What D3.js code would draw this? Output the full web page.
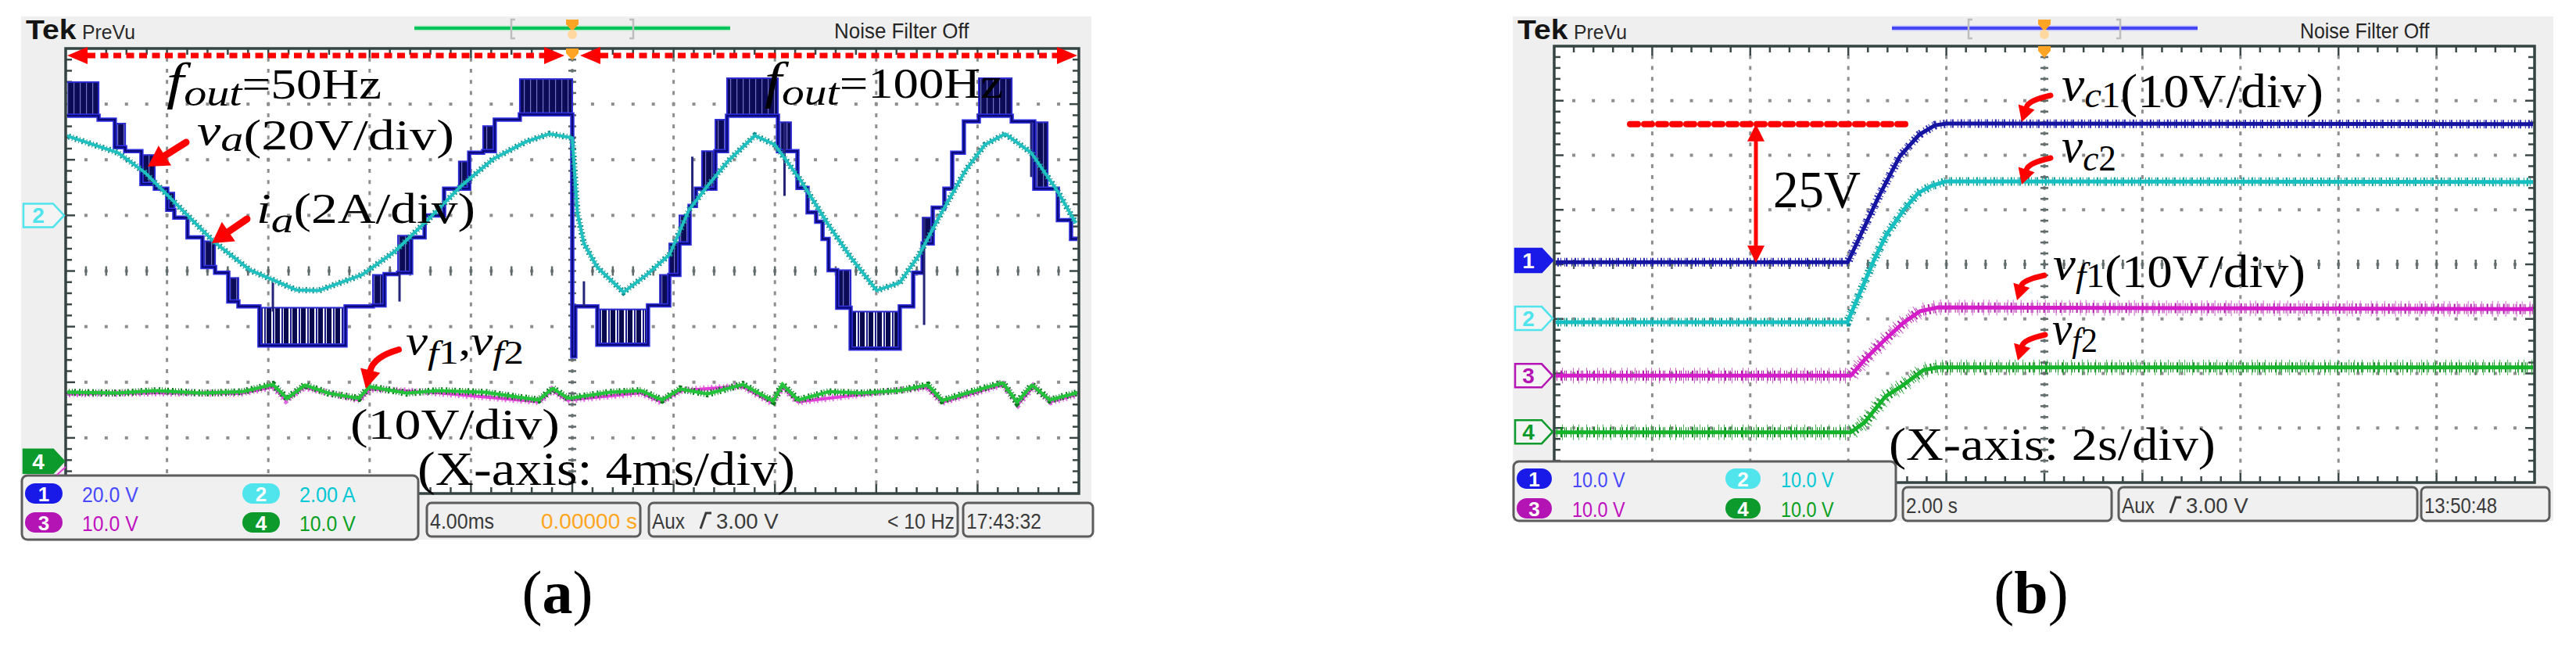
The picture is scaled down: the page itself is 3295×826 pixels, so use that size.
<!DOCTYPE html>
<html>
<head>
<meta charset="utf-8">
<script src="https://cdn.jsdelivr.net/npm/d3@7"></script>
<style>
body { margin: 0; background: #fff; }
svg { display: block; }
.serif { font-family: "Liberation Serif", "Times New Roman", serif; fill: #000; }
.ui { font-family: "Liberation Sans", Arial, sans-serif; }
</style>
</head>
<body>
<svg id="chart" width="3295" height="826"></svg>
<script>
// ---------- data read off the two scope shots ----------
// (a) time in ms (4 ms/div), va in V, ia in A, vf in V
var voltsPerDivA = [20, 2, 10, 10];
var offsetDivA = [1.0, 1.0, -3.42, -3.42];
// va: [t0, t1, levelA, levelB] - equal levels = flat step, else PWM band
var vaSegA = [
	[0, 1.30, 35.8, 47.9], [1.30, 1.94, 34.4, 34.4], [1.94, 2.35, 24.5, 33.0], [2.35, 2.99, 23.1, 23.1],
	[2.99, 3.52, 11.3, 21.7], [3.52, 4.01, 9.6, 9.6], [4.01, 4.29, 2.0, 8.2], [4.29, 4.81, -0.8, -0.8],
	[4.81, 5.40, -7.9, -7.9], [5.40, 5.90, -18.6, -9.3], [5.90, 6.42, -20.6, -20.6], [6.42, 6.82, -31.0, -22.5],
	[6.82, 7.65, -32.7, -32.7], [7.65, 11.05, -46.8, -33.2], [11.05, 12.13, -32.7, -32.7], [12.13, 12.59, -32.4, -21.4],
	[12.59, 13.12, -21.1, -21.1], [13.12, 13.64, -20.6, -7.3], [13.64, 14.17, -7.9, -7.9], [14.17, 14.94, 0, 0],
	[14.94, 15.52, 9.6, 9.6], [15.52, 15.93, 9.6, 19.4], [15.93, 16.48, 22.5, 22.5], [16.48, 16.94, 23.1, 32.1],
	[16.94, 17.93, 34.4, 34.4], [17.93, 20.0, 36.3, 49.0],
	[20.0, 20.12, -50.7, -32.7], [20.12, 20.99, -32.7, -32.7], [20.99, 22.99, -46.5, -33.8], [22.99, 23.46, -32.4, -32.4],
	[23.46, 23.83, -32.4, -21.4], [23.83, 24.23, -21.4, -10.1], [24.23, 24.63, -10.1, 0], [24.63, 24.88, 3.4, 3.4],
	[24.88, 25.12, 9.6, 9.6], [25.12, 25.65, 9.6, 23.1], [25.65, 26.11, 23.1, 34.4], [26.11, 28.12, 35.8, 49.3],
	[28.12, 28.64, 23.1, 33.5], [28.64, 28.89, 23.1, 23.1], [28.89, 29.29, 9.9, 9.9], [29.29, 29.63, 1.1, 1.1],
	[29.63, 29.88, -2.3, -2.3], [29.88, 30.12, -8.5, -8.5], [30.12, 30.46, -19.7, -19.7], [30.46, 30.99, -33.2, -19.7],
	[30.99, 32.93, -47.9, -34.6], [32.93, 33.46, -32.7, -32.7], [33.46, 33.83, -20.6, -20.6], [33.83, 34.23, -10.1, -0.8],
	[34.23, 34.69, 2.8, 2.8], [34.69, 35.00, 9.6, 9.6], [35.00, 35.46, 22.5, 22.5], [35.46, 36.05, 33.8, 33.8],
	[36.05, 37.35, 35.8, 49.3], [37.35, 38.24, 33.8, 33.8], [38.24, 38.77, 9.6, 33.5], [38.77, 39.17, 9.6, 9.6],
	[39.17, 39.69, -1.7, -1.7], [39.69, 40.0, -8.5, -8.5]
];
var vaSpikesA = [[8.18, -24.2, -34.6], [13.18, -20.6, -31.0], [20.46, -23.7, -32.7], [24.74, 3.4, 21.1],
	[28.38, 7.0, 33.5], [33.89, -39.4, -0.8], [38.12, 13.8, 33.5]];
var iaA = [
	[0, 2.87], [2.07, 2.25], [3.12, 1.55], [4.29, 0.48], [5.83, -0.93], [7.28, -1.97], [9.10, -2.68], [10.0, -2.70],
	[11.70, -2.14], [12.99, -1.30], [14.29, -0.17], [15.59, 1.04], [16.88, 2.03], [18.18, 2.65], [19.10, 2.93], [20.0, 2.79],
	[20.2, 0.11], [20.46, -1.01], [20.98, -1.86], [22.02, -2.76], [22.93, -2.14], [23.84, -1.41], [24.61, 0.20],
	[25.40, 1.13], [26.17, 1.97], [27.21, 2.87], [28.0, 2.54], [29.03, 1.24], [30.07, -0.28], [30.98, -1.49],
	[32.02, -2.70], [32.93, -2.42], [33.70, -1.41], [34.47, -0.08], [35.52, 1.61], [36.29, 2.54], [37.09, 2.93],
	[38.12, 2.25], [39.17, 0.85], [39.88, -0.28]
];
var vf2A = [
	[0, 12.4], [2.04, 12.25], [3.58, 12.7], [5.43, 12.25], [6.98, 12.5], [8.18, 13.8], [8.74, 11.3], [9.44, 13.7],
	[10.37, 12.25], [11.57, 11.3], [12.0, 13.4], [13.46, 12.25], [14.69, 12.7], [16.54, 12.4], [18.67, 11.0], [19.23, 13.1],
	[19.84, 11.3], [21.48, 12.4], [22.71, 12.7], [23.55, 11.0], [24.26, 13.0], [25.34, 12.1], [26.73, 13.8], [27.93, 10.8],
	[28.30, 13.8], [28.92, 11.0], [30.12, 12.5], [31.36, 12.25], [32.9, 12.7], [34.04, 13.7], [34.6, 10.9], [35.68, 12.4],
	[37.0, 14.1], [37.56, 10.6], [38.15, 13.7], [38.86, 11.0], [40, 12.4]
];
var vf1A = [
	[0, 12.1], [3.6, 12.3], [6.9, 12.2], [8.2, 13.4], [8.7, 11.0], [9.4, 13.3], [11.6, 11.0], [12.0, 13.0], [14.7, 12.3],
	[18.7, 10.7], [19.2, 12.8], [19.8, 11.0], [22.7, 12.3], [23.5, 10.7], [24.3, 12.7], [26.7, 13.5], [27.9, 10.5],
	[28.3, 13.4], [28.9, 10.7], [31.4, 12.0], [34.0, 13.3], [34.6, 10.6], [37.0, 13.8], [37.6, 10.3], [38.2, 13.4],
	[38.9, 10.7], [40, 12.1]
];
// (b) time in s (2 s/div), all channels 10 V/div
var voltsPerDivB = [10, 10, 10, 10];
var offsetDivB = [0.07, -0.99, -2.04, -3.07];
var vc1B = [[0, -0.3], [5.99, -0.3], [6.63, 11.9], [7.05, 19.1], [7.45, 23.1], [7.77, 24.8], [8.01, 25.1], [20, 25.0]];
var vc2B = [[0, -0.7], [5.98, -0.7], [6.54, 11.0], [6.78, 15.4], [7.15, 20.1], [7.43, 23.0], [7.70, 24.3], [7.99, 25.1], [20, 25.0]];
var vf1B = [[0, 0], [6.05, 0], [6.33, 2.9], [6.76, 6.7], [7.11, 9.6], [7.46, 11.8], [7.82, 12.5], [20, 12.2]];
var vf2B = [[0, -0.1], [6.05, -0.1], [6.33, 1.7], [6.76, 6.5], [7.11, 8.5], [7.53, 11.3], [7.82, 11.8], [20, 11.8]];
var stepB = 25; // annotated rise of vc1

// readouts
var chLabels = ["1", "2", "3", "4"];
var chScaleA = ["20.0 V", "2.00 A", "10.0 V", "10.0 V"];
var chScaleB = ["10.0 V", "10.0 V", "10.0 V", "10.0 V"];
var timebaseA = ["4.00ms", "0.00000 s"], triggerA = ["Aux", "3.00 V", "< 10 Hz"], clockA = "17:43:32";
var timebaseB = ["2.00 s"], triggerB = ["Aux", "3.00 V"], clockB = "13:50:48";

var chText = ["#4848ff", "#00c8d4", "#c010c0", "#08a020"];
var pillColor = ["#1a1ae8", "#50e4ec", "#b414b4", "#0c9a2c"];

var svg = d3.select("#chart");
svg.append("rect").attr("width", 3295).attr("height", 826).attr("fill", "#fff");

var defs = svg.append("defs");
// PWM bands: dark with thin light slits, wide ones a little more open
var pDark = defs.append("pattern").attr("id", "pwmDark").attr("patternUnits", "userSpaceOnUse").attr("width", 8).attr("height", 10);
pDark.append("rect").attr("width", 8).attr("height", 10).attr("fill", "#0b0b58");
pDark.append("rect").attr("x", 6).attr("width", 1.2).attr("height", 10).attr("fill", "#7070c8");
var pOpen = defs.append("pattern").attr("id", "pwmOpen").attr("patternUnits", "userSpaceOnUse").attr("width", 11).attr("height", 10);
pOpen.append("rect").attr("width", 11).attr("height", 10).attr("fill", "#f4f4fb");
pOpen.append("rect").attr("width", 6).attr("height", 10).attr("fill", "#08084e");
pOpen.append("rect").attr("x", 8).attr("width", 2).attr("height", 10).attr("fill", "#1c1c90");

function fit(t, x0, w) {
	var bw = t.node().getBBox().width;
	if (bw > 0) t.attr("transform", "translate(" + x0 + ",0) scale(" + (w / bw) + ",1) translate(" + (-x0) + ",0)");
	return t;
}

function uiText(g, x, y, s, size, color, w, anchor) {
	var t = g.append("text").attr("class", "ui").attr("x", x).attr("y", y)
		.attr("font-size", size).attr("fill", color).attr("text-anchor", anchor || "start").text(s);
	if (w) fit(t, x, w);
	return t;
}

// math-ish label: parts = [text, style(1 italic, 2 bold), dy, fontsize]
function label(g, x, y, parts, size, w, anchor) {
	var t = g.append("text").attr("class", "serif").attr("x", x).attr("y", y)
		.attr("font-size", size).attr("text-anchor", anchor || "start");
	parts.forEach(function(p) {
		var ts = t.append("tspan").text(p[0]);
		if (p[1] === 1) ts.attr("font-style", "italic");
		if (p[1] === 2) ts.attr("font-weight", "bold");
		if (p[2]) ts.attr("dy", p[2]);
		if (p[3]) ts.attr("font-size", p[3]);
	});
	if (w) fit(t, x, w);
	return t;
}

function arrow(g, x0, y0, cx, cy, x1, y1, w, hl, hw) {
	var dx = x1 - cx, dy = y1 - cy, L = Math.sqrt(dx * dx + dy * dy), ux = dx / L, uy = dy / L;
	var bx = x1 - ux * hl, by = y1 - uy * hl;
	g.append("path").attr("d", "M" + x0 + "," + y0 + " Q" + cx + "," + cy + " " + bx + "," + by)
		.attr("fill", "none").attr("stroke", "#ff0000").attr("stroke-width", w).attr("stroke-linecap", "round");
	g.append("path").attr("fill", "#ff0000")
		.attr("d", "M" + x1 + "," + y1 + " L" + (bx - uy * hw) + "," + (by + ux * hw) + " L" + (bx + uy * hw) + "," + (by - ux * hw) + "Z");
}

function head(g, tipX, tipY, dir, len, half) {
	g.append("path").attr("fill", "#ff0000")
		.attr("d", "M" + tipX + "," + tipY + " L" + (tipX - dir * len) + "," + (tipY - half) + " L" + (tipX - dir * len) + "," + (tipY + half) + "Z");
}

function scope(cfg) {
	var g = svg.append("g");
	g.append("rect").attr("x", cfg.bx0).attr("y", cfg.by0).attr("width", cfg.bx1 - cfg.bx0)
		.attr("height", cfg.by1 - cfg.by0).attr("fill", "#efefef");
	var gx = d3.scaleLinear().domain([0, 10]).range([cfg.gx0, cfg.gx1]);
	var gy = d3.scaleLinear().domain([-4, 4]).range([cfg.gy1, cfg.gy0]);
	g.append("rect").attr("x", cfg.gx0).attr("y", cfg.gy0).attr("width", cfg.gx1 - cfg.gx0)
		.attr("height", cfg.gy1 - cfg.gy0).attr("fill", "#fff");

	var minX = d3.range(1, 50), minY = d3.range(1, 40);
	var dots = g.append("g").attr("fill", "#8e8e8e");
	d3.range(1, 10).forEach(function(i) {
		dots.selectAll(null).data(minY).enter().append("rect")
			.attr("x", gx(i) - 1.5).attr("y", function(k) { return gy(-4 + k * 0.2) - 2.5; })
			.attr("width", 3).attr("height", 5);
	});
	d3.range(1, 8).forEach(function(j) {
		dots.selectAll(null).data(minX).enter().append("rect")
			.attr("x", function(k) { return gx(k * 0.2) - 2; }).attr("y", gy(j - 4) - 2)
			.attr("width", 4).attr("height", 4);
	});
	// tick marks on centre axes and frame
	var tk = g.append("g").attr("stroke", "#5f6a6a").attr("stroke-width", 2.5);
	tk.selectAll(null).data(minY).enter().append("line")
		.attr("x1", gx(5) - 5).attr("x2", gx(5) + 5)
		.attr("y1", function(k) { return gy(-4 + k * 0.2); }).attr("y2", function(k) { return gy(-4 + k * 0.2); });
	tk.selectAll(null).data(minX).enter().append("line")
		.attr("y1", gy(0) - 6).attr("y2", gy(0) + 6)
		.attr("x1", function(k) { return gx(k * 0.2); }).attr("x2", function(k) { return gx(k * 0.2); });
	var ft = g.append("g").attr("stroke", "#3c4848").attr("stroke-width", 2.5);
	minX.forEach(function(k) {
		var l = k % 5 === 0 ? 12 : 8;
		ft.append("line").attr("x1", gx(k * 0.2)).attr("x2", gx(k * 0.2)).attr("y1", cfg.gy0).attr("y2", cfg.gy0 + l);
		ft.append("line").attr("x1", gx(k * 0.2)).attr("x2", gx(k * 0.2)).attr("y1", cfg.gy1).attr("y2", cfg.gy1 - l);
	});
	minY.forEach(function(k) {
		var l = k % 5 === 0 ? 12 : 8;
		ft.append("line").attr("y1", gy(-4 + k * 0.2)).attr("y2", gy(-4 + k * 0.2)).attr("x1", cfg.gx0).attr("x2", cfg.gx0 + l);
		ft.append("line").attr("y1", gy(-4 + k * 0.2)).attr("y2", gy(-4 + k * 0.2)).attr("x1", cfg.gx1).attr("x2", cfg.gx1 - l);
	});
	g.append("rect").attr("x", cfg.gx0).attr("y", cfg.gy0).attr("width", cfg.gx1 - cfg.gx0)
		.attr("height", cfg.gy1 - cfg.gy0).attr("fill", "none").attr("stroke", "#354343").attr("stroke-width", 3.5);

	var clipId = "clip" + cfg.id;
	svg.append("clipPath").attr("id", clipId).append("rect").attr("x", cfg.gx0 + 2).attr("y", cfg.gy0 + 2)
		.attr("width", cfg.gx1 - cfg.gx0 - 4).attr("height", cfg.gy1 - cfg.gy0 - 4);
	var traces = svg.append("g").attr("clip-path", "url(#" + clipId + ")");

	// header
	var hd = svg.append("g");
	uiText(hd, cfg.bx0 + 6, 50, "Tek", 36, "#141414", 62).attr("font-weight", "bold").attr("font-family", "Liberation Serif");
	uiText(hd, cfg.bx0 + 78, 50, "PreVu", 26, "#2a2a2a", 68);
	uiText(hd, cfg.noise[0], 49, "Noise Filter Off", 27, "#262626", cfg.noise[1] - cfg.noise[0]);
	hd.append("line").attr("x1", cfg.bar[0]).attr("x2", cfg.bar[1]).attr("y1", 36).attr("y2", 36)
		.attr("stroke", cfg.barEdge).attr("stroke-width", 7);
	hd.append("line").attr("x1", cfg.bar[0]).attr("x2", cfg.bar[1]).attr("y1", 36).attr("y2", 36)
		.attr("stroke", cfg.barColor).attr("stroke-width", 4);
	[[cfg.brk[0], 1], [cfg.brk[1], -1]].forEach(function(b) {
		hd.append("path").attr("fill", "none").attr("stroke", "#bdbdbd").attr("stroke-width", 2.5)
			.attr("d", "M" + (b[0] + b[1] * 5) + ",25 L" + b[0] + ",25 L" + b[0] + ",49 L" + (b[0] + b[1] * 5) + ",49");
	});
	var tx = gx(5);
	hd.append("path").attr("fill", "#ffa424").attr("d", "M" + (tx - 8) + ",25 L" + (tx + 8) + ",25 L" + (tx + 8) + ",31 L" + tx + ",40 L" + (tx - 8) + ",31Z");
	hd.append("circle").attr("cx", tx).attr("cy", 44).attr("r", 6).attr("fill", "#ffd8a0");
	hd.append("path").attr("fill", "#ffa424").attr("d", "M" + (tx - 8) + "," + cfg.gy0 + " L" + (tx + 8) + "," + cfg.gy0 + " L" + (tx + 8) + "," + (cfg.gy0 + 6) + " L" + tx + "," + (cfg.gy0 + 15) + " L" + (tx - 8) + "," + (cfg.gy0 + 6) + "Z");

	return { g: g, gx: gx, gy: gy, traces: traces, cfg: cfg };
}

function chScale(sc, offsets, perDiv, c) {
	return function(v) { return sc.gy(offsets[c] + v / perDiv[c]); };
}

function marker(sc, y, c, filled) {
	var x0 = sc.cfg.bx0 + 3, x1 = sc.cfg.gx0 - 2, h = 15;
	svg.append("path").attr("fill", filled ? pillColor[c] : "#f4f4f4").attr("stroke", pillColor[c]).attr("stroke-width", 2.5)
		.attr("d", "M" + x0 + "," + (y - h) + " L" + (x1 - 14) + "," + (y - h) + " L" + x1 + "," + y + " L" + (x1 - 14) + "," + (y + h) + " L" + x0 + "," + (y + h) + "Z");
	uiText(svg, (x0 + x1 - 14) / 2, y + 10, chLabels[c], 28, filled ? "#fff" : pillColor[c], null, "middle").attr("font-weight", "bold");
}

function fuzzy(g, path, color, w, layers) {
	layers.forEach(function(l) {
		g.append("path").attr("d", path).attr("fill", "none").attr("stroke", l[2] || color)
			.attr("stroke-width", l[0]).attr("stroke-dasharray", l[1]).attr("opacity", l[3] || 1);
	});
	g.append("path").attr("d", path).attr("fill", "none").attr("stroke", color).attr("stroke-width", w)
		.attr("stroke-linejoin", "round");
}

function readouts(cfg, scale, tb, trig, clock) {
	var g = svg.append("g");
	var cb = cfg.chBox;
	g.append("rect").attr("x", cb[0]).attr("y", cb[1]).attr("width", cb[2] - cb[0]).attr("height", cb[3] - cb[1])
		.attr("rx", 7).attr("fill", "#f0f0f0").attr("stroke", "#5c5c5c").attr("stroke-width", 3);
	chLabels.forEach(function(lab, c) {
		var col = c % 2, row = Math.floor(c / 2);
		var px = cfg.pillX[col], py = cfg.rowY[row];
		g.append("rect").attr("x", px).attr("y", py - 13).attr("width", cfg.pillW).attr("height", 26).attr("rx", 13)
			.attr("fill", pillColor[c]);
		uiText(g, px + cfg.pillW / 2, py + 10, lab, 26, "#fff", null, "middle").attr("font-weight", "bold");
		uiText(g, cfg.valX[col], py + 11, scale[c], 28, chText[c], cfg.valW);
	});
	cfg.boxes.forEach(function(b) {
		g.append("rect").attr("x", b[0]).attr("y", cfg.boxY[0]).attr("width", b[1] - b[0]).attr("height", cfg.boxY[1] - cfg.boxY[0])
			.attr("rx", 6).attr("fill", "#f0f0f0").attr("stroke", "#5c5c5c").attr("stroke-width", 3);
	});
	var by = cfg.boxY[1] - 10, b = cfg.boxes;
	uiText(g, b[0][0] + 4, by, tb[0], 28, "#3a3a3a", cfg.tbW);
	if (tb[1]) uiText(g, b[0][1] - 4, by, tb[1], 28, "#ffa51e", null, "end");
	uiText(g, b[1][0] + 4, by, trig[0], 28, "#3a3a3a", 42);
	var ex = b[1][0] + 66;
	g.append("path").attr("fill", "none").attr("stroke", "#3a3a3a").attr("stroke-width", 3)
		.attr("d", "M" + ex + "," + by + " L" + (ex + 7) + "," + (by - 20) + " L" + (ex + 14) + "," + (by - 20));
	uiText(g, ex + 20, by, trig[1], 28, "#3a3a3a", 80);
	if (trig[2]) uiText(g, b[1][1] - 90, by, trig[2], 28, "#3a3a3a", 86);
	uiText(g, b[2][0] + 4, by, clock, 28, "#3a3a3a", cfg.clockW);
	return g;
}

// ================= panel (a) =================
var A = scope({ id: "a", bx0: 27, by0: 21, bx1: 1396, by1: 690, gx0: 84, gx1: 1380, gy0: 62, gy1: 631,
	noise: [1067, 1240], bar: [530, 934], brk: [654, 810], barColor: "#00c25a", barEdge: "#b6ecc8" });
var xa = d3.scaleLinear().domain([0, 40]).range([84, 1380]);
var ya = [0, 1, 2, 3].map(function(c) { return chScale(A, offsetDivA, voltsPerDivA, c); });

var ta = A.traces;
var lineVf1 = d3.line().x(function(d) { return xa(d[0]); }).y(function(d) { return ya[2](d[1]); });
var lineVf2 = d3.line().x(function(d) { return xa(d[0]); }).y(function(d) { return ya[3](d[1]); });
fuzzy(ta, lineVf1(vf1A), "#e040d8", 4, [[9, "1 3 2 4", "#e070e0"]]);
fuzzy(ta, lineVf2(vf2A), "#22c23a", 4, [[9, "2 2 1 3 1 2 2 4", "#0c7a1e"], [5, "1 2", "#40e050"]]);
var lineIa = d3.line().x(function(d) { return xa(d[0]); }).y(function(d) { return ya[1](d[1]); });

// va: PWM bands, stepped outline, isolated spikes
var bands = ta.append("g");
vaSegA.filter(function(s) { return s[2] !== s[3]; }).forEach(function(s) {
	var y1 = ya[0](Math.max(s[2], s[3])), y2 = ya[0](Math.min(s[2], s[3]));
	var w = Math.max(2, xa(s[1]) - xa(s[0]));
	bands.append("rect").attr("x", xa(s[0])).attr("y", y1).attr("width", w)
		.attr("height", y2 - y1).attr("fill", w > 55 && s[2] < 0 ? "url(#pwmOpen)" : "url(#pwmDark)")
		.attr("stroke", "#2a2ad0").attr("stroke-width", 2);
});
var vaPts = [];
vaSegA.forEach(function(s) { vaPts.push([s[0], s[2]]); vaPts.push([s[1], s[2]]); });
var lineVa = d3.line().x(function(d) { return xa(d[0]); }).y(function(d) { return ya[0](d[1]); });
ta.append("path").attr("d", lineVa(vaPts)).attr("fill", "none").attr("stroke", "#3232e4").attr("stroke-width", 5.5);
ta.append("path").attr("d", lineVa(vaPts)).attr("fill", "none").attr("stroke", "#0a0a78").attr("stroke-width", 2.5);
ta.selectAll(null).data(vaSpikesA).enter().append("line")
	.attr("x1", function(d) { return xa(d[0]); }).attr("x2", function(d) { return xa(d[0]); })
	.attr("y1", function(d) { return ya[0](d[1]); }).attr("y2", function(d) { return ya[0](d[2]); })
	.attr("stroke", "#24247a").attr("stroke-width", 3);
fuzzy(ta, lineIa(iaA), "#20c0c0", 4, [[8, "1 3 2 3", "#138c8c"]]);

readouts({ chBox: [28, 608, 535, 690], pillX: [32, 310], pillW: 48, rowY: [631, 668], valX: [105, 383], valW: 72,
	boxes: [[546, 819], [830, 1225], [1232, 1398]], boxY: [643, 686], tbW: 82, clockW: 96 },
	chScaleA, timebaseA, triggerA, clockA);
marker(A, ya[1](0), 1, false);
marker(A, ya[3](0), 3, true);
svg.append("line").attr("x1", 73).attr("y1", 607).attr("x2", 84).attr("y2", 597).attr("stroke", "#e040d8").attr("stroke-width", 2);

// annotations (a)
var an = svg.append("g");
var dy = 71;
head(an, 86, dy, -1, 26, 11);
head(an, 722, dy, 1, 26, 11);
head(an, 742, dy, -1, 26, 11);
head(an, 1378, dy, 1, 26, 11);
an.append("line").attr("x1", 112).attr("x2", 696).attr("y1", dy).attr("y2", dy)
	.attr("stroke", "#ff0000").attr("stroke-width", 7).attr("stroke-dasharray", "10 6.5");
an.append("line").attr("x1", 768).attr("x2", 1352).attr("y1", dy).attr("y2", dy)
	.attr("stroke", "#ff0000").attr("stroke-width", 7).attr("stroke-dasharray", "10 6.5");
label(an, 213, 126, [["f", 1, 0, 66], ["out", 1, 9, 48], ["=50Hz", 0, -9]], 54, 275);
label(an, 978, 125, [["f", 1, 0, 66], ["out", 1, 9, 48], ["=100Hz", 0, -9]], 54, 305);
label(an, 252, 191, [["v", 1, -6], ["a", 1, 8, 46], ["(20V/div)", 0, -2]], 54, 329);
label(an, 328, 285, [["i", 1], ["a", 1, 12, 46], ["(2A/div)", 0, -12]], 54, 280);
label(an, 519, 453, [["v", 1], ["f", 1, 12, 42], ["1", 0, 0, 42], [",", 0, -12], ["v", 1], ["f", 1, 12, 42], ["2", 0, 0, 42]], 52, 151);
label(an, 448, 561, [["(10V/div)"]], 54, 268);
label(an, 534, 620, [["(X-axis: 4ms/div)"]], 62, 483);
arrow(an, 238, 182, 214, 197, 189, 213, 9, 26, 15);
arrow(an, 316, 280, 294, 295, 271, 311, 9, 26, 15);
arrow(an, 510, 447, 478, 456, 468, 497, 8, 24, 13);
label(svg, 713, 784, [["("], ["a", 2], [")"]], 78, null, "middle");

// ================= panel (b) =================
var B = scope({ id: "b", bx0: 1935, by0: 21, bx1: 3266, by1: 666, gx0: 1988, gx1: 3242, gy0: 59, gy1: 617,
	noise: [2942, 3108], bar: [2420, 2811], brk: [2518, 2712], barColor: "#4646f2", barEdge: "#c4c4ff" });
var xb = d3.scaleLinear().domain([0, 20]).range([1988, 3242]);
var yb = [0, 1, 2, 3].map(function(c) { return chScale(B, offsetDivB, voltsPerDivB, c); });
var tb = B.traces;
var seriesB = [vc1B, vc2B, vf1B, vf2B];
var fuzzB = [
	[[11, "1 3 2 2 1 4 1 1 2 5", "#2a2ab0"]],
	[[11, "1 3 2 2 1 4 1 1 2 5", "#0e9a9a"]],
	[[13, "1 2 1 4 2 3 1 1 1 5", "#b01aa8"], [20, "1 9 1 13 1 6", "#c040c0", 0.8]],
	[[13, "1 2 1 4 2 3 1 1 1 5", "#0a8a1c"], [20, "1 9 1 13 1 6", "#20a030", 0.8]]
];
var coreB = ["#1414a0", "#16c0c0", "#d41cc8", "#14b42a"];
seriesB.forEach(function(data, c) {
	var ln = d3.line().x(function(d) { return xb(d[0]); }).y(function(d) { return yb[c](d[1]); });
	fuzzy(tb, ln(data), coreB[c], 5, fuzzB[c]);
});
readouts({ chBox: [1936, 590, 2425, 666], pillX: [1940, 2207], pillW: 45, rowY: [612, 650], valX: [2011, 2278], valW: 68,
	boxes: [[2434, 2701], [2710, 3092], [3097, 3261]], boxY: [623, 666], tbW: 66, clockW: 93 },
	chScaleB, timebaseB, triggerB, clockB);
marker(B, yb[0](0), 0, true);
marker(B, yb[1](0), 1, false);
marker(B, yb[2](0), 2, false);
marker(B, yb[3](0), 3, false);

// annotations (b)
var bn = svg.append("g");
var topY = yb[0](stepB);
bn.append("line").attr("x1", 2085).attr("x2", 2438).attr("y1", topY).attr("y2", topY)
	.attr("stroke", "#ff0000").attr("stroke-width", 8).attr("stroke-dasharray", "10 8").attr("stroke-linecap", "round");
var ax = 2246, botY = yb[0](0) + 3;
bn.append("line").attr("x1", ax).attr("x2", ax).attr("y1", topY + 18).attr("y2", botY - 18)
	.attr("stroke", "#ff0000").attr("stroke-width", 5);
bn.append("path").attr("fill", "#ff0000").attr("d", "M" + ax + "," + topY + " L" + (ax - 11) + "," + (topY + 22) + " L" + (ax + 11) + "," + (topY + 22) + "Z");
bn.append("path").attr("fill", "#ff0000").attr("d", "M" + ax + "," + botY + " L" + (ax - 11) + "," + (botY - 22) + " L" + (ax + 11) + "," + (botY - 22) + "Z");
label(bn, 2268, 265, [["25V"]], 68, 112);
label(bn, 2637, 137, [["v", 1, -9], ["c", 1, 9, 46], ["1", 0, 0, 46], ["(10V/div)"]], 62, 335);
label(bn, 2637, 218, [["v", 1, -11], ["c", 1, 11, 46], ["2", 0, 0, 46]], 62, 70);
label(bn, 2626, 367, [["v", 1, -10], ["f", 1, 10, 44], ["1", 0, 0, 44], ["(10V/div)"]], 60, 323);
label(bn, 2625, 450, [["v", 1, -10], ["f", 1, 10, 44], ["2", 0, 0, 44]], 60, 58);
label(bn, 2416, 588, [["(X-axis: 2s/div)"]], 60, 418);
arrow(bn, 2623, 122, 2595, 128, 2586, 156, 7, 20, 11);
arrow(bn, 2623, 202, 2595, 208, 2586, 236, 7, 20, 11);
arrow(bn, 2615, 352, 2588, 358, 2580, 384, 7, 20, 11);
arrow(bn, 2616, 428, 2589, 434, 2581, 461, 7, 20, 11);
label(svg, 2598, 784, [["("], ["b", 2], [")"]], 78, null, "middle");
</script>
</body>
</html>
